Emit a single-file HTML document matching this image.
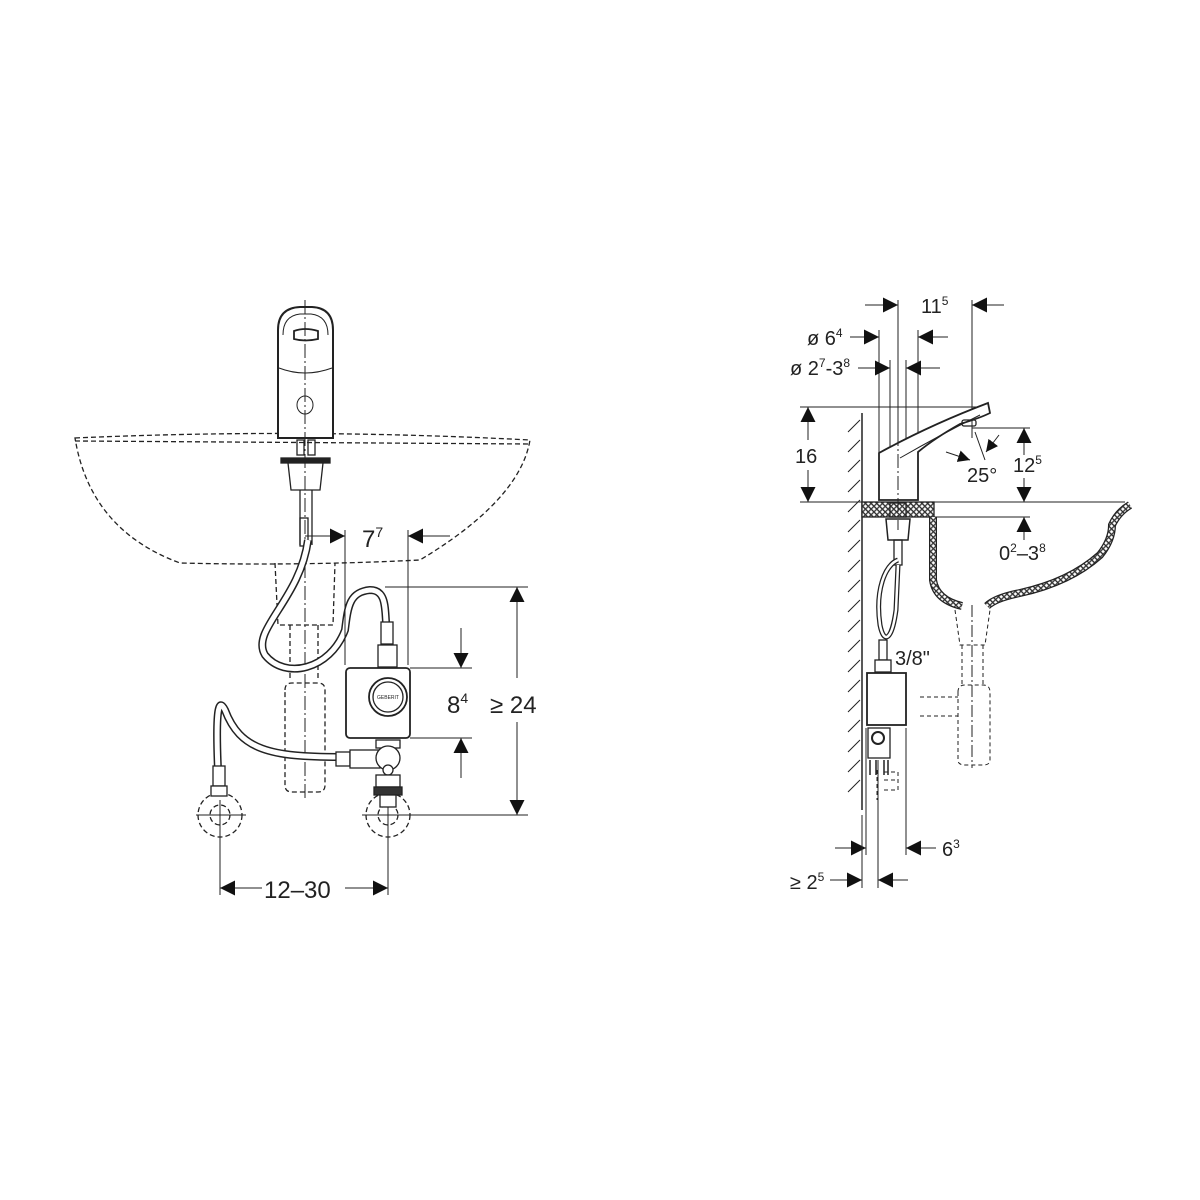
<!DOCTYPE html>
<html><head><meta charset="utf-8"><style>body{margin:0;background:#fff}svg{display:block}</style></head><body>
<svg width="1200" height="1200" viewBox="0 0 1200 1200" xmlns="http://www.w3.org/2000/svg" font-family="Liberation Sans, sans-serif" fill="none" stroke="#222" stroke-width="1.3">
<defs>
<marker id="a" viewBox="0 0 10 10" refX="10" refY="5" markerWidth="12" markerHeight="12" markerUnits="userSpaceOnUse" orient="auto"><path d="M0,0L10,5L0,10z" fill="#111" stroke="none"/></marker>
<marker id="b" viewBox="0 0 10 10" refX="10" refY="5" markerWidth="15" markerHeight="15" markerUnits="userSpaceOnUse" orient="auto"><path d="M0,0L10,5L0,10z" fill="#111" stroke="none"/></marker>
<pattern id="h" width="4" height="4" patternUnits="userSpaceOnUse" patternTransform="rotate(45)"><rect width="4" height="4" fill="#fff"/><line x1="0" y1="0" x2="0" y2="4" stroke="#555" stroke-width="0.8"/></pattern>
</defs>

<!-- LEFT: basin dashed -->
<g stroke-dasharray="5,3">
<path d="M75,438 Q300,428 530,440 Q520,500 420,560 Q300,566 180,563 Q90,530 75,438 Z"/>
<path d="M75,441 L530,444"/>
<path d="M275,563 L278,625 L333,625 L335,563"/>
<path d="M290,625 L290,680 M318,625 L318,680"/>
<path d="M285,690 Q285,683 292,683 L318,683 Q325,683 325,690 L325,785 Q325,792 318,792 L292,792 Q285,792 285,785 Z"/>
<circle cx="220" cy="815" r="22"/><circle cx="388" cy="815" r="22"/>
<circle cx="220" cy="815" r="10"/><circle cx="388" cy="815" r="10"/>
</g>
<line x1="305" y1="300" x2="305" y2="800" stroke-dasharray="14,3,2,3" stroke-width="1"/>
<line x1="196" y1="815" x2="246" y2="815" stroke-width="1"/><line x1="220" y1="800" x2="220" y2="895" stroke-width="1"/>
<line x1="362" y1="815" x2="412" y2="815" stroke-width="1"/><line x1="388" y1="800" x2="388" y2="895" stroke-width="1"/>

<!-- faucet body -->
<path d="M278,438 L278,330 Q278,308 300,307 L312,307 Q333,308 333,330 L333,438 Z" fill="#fff" stroke-width="2"/>
<path d="M283,335 Q283,316 300,314 L311,314 Q328,316 328,335" stroke-width="1"/>
<path d="M294,331 Q305,327 318,331 L318,339 Q305,342 294,339 Z" stroke-width="1.8"/>
<path d="M279,368 Q305,378 332,368" stroke-width="1"/>
<ellipse cx="305" cy="405" rx="8" ry="9" stroke-width="1"/>
<line x1="305" y1="300" x2="305" y2="445" stroke-dasharray="14,3,2,3" stroke-width="1"/>
<rect x="297" y="440" width="7" height="15"/><rect x="308" y="440" width="7" height="15"/>
<rect x="281" y="458" width="49" height="5" fill="#222"/>
<path d="M288,463 L291,490 L320,490 L323,463"/>
<path d="M300,490 L300,545 M312,490 L312,545"/>
<rect x="300" y="518" width="8" height="28"/>
<!-- hoses -->
<g stroke-width="8" stroke="#222"><path d="M308,540 C300,600 250,630 265,655 C285,680 330,670 345,630 C348,605 350,592 370,590 C385,590 385,605 386,622"/>
<path d="M340,757 C270,757 240,750 225,710 C220,700 215,700 218,770"/></g>
<g stroke-width="5" stroke="#fff"><path d="M308,540 C300,600 250,630 265,655 C285,680 330,670 345,630 C348,605 350,592 370,590 C385,590 385,605 386,622"/>
<path d="M340,757 C270,757 240,750 225,710 C220,700 215,700 218,770"/></g>
<rect x="381" y="622" width="12" height="22" fill="#fff"/>
<rect x="378" y="645" width="19" height="22" fill="#fff"/>
<rect x="213" y="766" width="12" height="20" fill="#fff"/>
<rect x="211" y="786" width="16" height="10" fill="#fff"/>
<!-- control box -->
<rect x="346" y="668" width="64" height="70" rx="4" fill="#fff" stroke-width="1.8"/>
<circle cx="388" cy="697" r="19" fill="#fff" stroke-width="1.8"/><circle cx="388" cy="697" r="15"/>
<text x="388" y="699" font-size="5" text-anchor="middle" fill="#222" stroke="none">GEBERIT</text>
<!-- valve -->
<rect x="376" y="740" width="24" height="8" fill="#fff"/>
<rect x="336" y="752" width="14" height="14" fill="#fff"/>
<rect x="350" y="750" width="30" height="18" fill="#fff"/>
<circle cx="388" cy="758" r="12" fill="#fff"/>
<circle cx="388" cy="770" r="5" fill="#fff"/>
<rect x="376" y="775" width="24" height="12" fill="#fff"/>
<rect x="374" y="787" width="28" height="8" fill="#333"/>
<rect x="380" y="795" width="16" height="12" fill="#fff"/>
<!-- left dims -->
<g stroke-width="1">
<line x1="345" y1="530" x2="345" y2="665"/><line x1="408" y1="530" x2="408" y2="665"/>
<line x1="305" y1="536" x2="345" y2="536" marker-end="url(#b)"/>
<line x1="450" y1="536" x2="408" y2="536" marker-end="url(#b)"/>
<line x1="385" y1="587" x2="528" y2="587"/><line x1="410" y1="815" x2="528" y2="815"/>
<line x1="517" y1="678" x2="517" y2="587" marker-end="url(#b)"/>
<line x1="517" y1="722" x2="517" y2="815" marker-end="url(#b)"/>
<line x1="410" y1="668" x2="472" y2="668"/><line x1="410" y1="738" x2="472" y2="738"/>
<line x1="461" y1="628" x2="461" y2="668" marker-end="url(#b)"/>
<line x1="461" y1="778" x2="461" y2="738" marker-end="url(#b)"/>
<line x1="262" y1="888" x2="220" y2="888" marker-end="url(#b)"/>
<line x1="345" y1="888" x2="388" y2="888" marker-end="url(#b)"/>
</g>
<g fill="#222" stroke="none" font-size="24">
<text x="362" y="547">7<tspan font-size="14" dy="-10">7</tspan></text>
<text x="447" y="713">8<tspan font-size="14" dy="-10">4</tspan></text>
<text x="490" y="713">≥ 24</text>
<text x="264" y="898">12–30</text>
</g>

<!-- RIGHT -->
<g stroke-width="1">
<line x1="898" y1="300" x2="898" y2="500"/><line x1="972" y1="300" x2="972" y2="438"/>
<line x1="865" y1="305" x2="898" y2="305" marker-end="url(#b)"/>
<line x1="1004" y1="305" x2="972" y2="305" marker-end="url(#b)"/>
<line x1="879" y1="330" x2="879" y2="455"/><line x1="918" y1="330" x2="918" y2="455"/>
<line x1="850" y1="337" x2="879" y2="337" marker-end="url(#b)"/>
<line x1="948" y1="337" x2="918" y2="337" marker-end="url(#b)"/>
<line x1="890" y1="360" x2="890" y2="500"/><line x1="906" y1="360" x2="906" y2="500"/>
<line x1="858" y1="368" x2="890" y2="368" marker-end="url(#b)"/>
<line x1="940" y1="368" x2="906" y2="368" marker-end="url(#b)"/>
<line x1="800" y1="407" x2="985" y2="407"/>
<line x1="808" y1="440" x2="808" y2="407" marker-end="url(#b)"/>
<line x1="808" y1="470" x2="808" y2="502" marker-end="url(#b)"/>
<line x1="800" y1="502" x2="1125" y2="502"/>
<line x1="972" y1="428" x2="1030" y2="428"/>
<line x1="1024" y1="455" x2="1024" y2="428" marker-end="url(#b)"/>
<line x1="1024" y1="478" x2="1024" y2="502" marker-end="url(#b)"/>
<line x1="975" y1="432" x2="985" y2="460"/>
<line x1="946" y1="452" x2="970" y2="460" marker-end="url(#a)"/>
<line x1="999" y1="435" x2="986" y2="452" marker-end="url(#a)"/>
<line x1="920" y1="517" x2="1030" y2="517"/>
<line x1="1024" y1="540" x2="1024" y2="517" marker-end="url(#b)"/>
<line x1="866" y1="728" x2="866" y2="855"/><line x1="906" y1="728" x2="906" y2="855"/>
<line x1="835" y1="848" x2="866" y2="848" marker-end="url(#b)"/>
<line x1="936" y1="848" x2="906" y2="848" marker-end="url(#b)"/>
<line x1="862" y1="815" x2="862" y2="888"/><line x1="878" y1="760" x2="878" y2="888"/>
<line x1="830" y1="880" x2="862" y2="880" marker-end="url(#b)"/>
<line x1="908" y1="880" x2="878" y2="880" marker-end="url(#b)"/>
</g>
<!-- wall -->
<line x1="862" y1="413" x2="862" y2="810" stroke-width="1.5"/>
<path d="M860,420 l-12,12 M860,440 l-12,12 M860,460 l-12,12 M860,480 l-12,12 M860,500 l-12,12 M860,520 l-12,12 M860,540 l-12,12 M860,560 l-12,12 M860,580 l-12,12 M860,600 l-12,12 M860,620 l-12,12 M860,640 l-12,12 M860,660 l-12,12 M860,680 l-12,12 M860,700 l-12,12 M860,720 l-12,12 M860,740 l-12,12 M860,760 l-12,12 M860,780 l-12,12" stroke-width="1"/>
<!-- basin section -->
<rect x="862" y="502" width="72" height="15" fill="url(#h)"/>
<g stroke-width="8" stroke="#222"><path d="M933,517 L933,580 Q936,600 962,606 M987,606 Q995,598 1020,593 Q1070,582 1100,555 Q1112,540 1112,525 Q1118,512 1130,505"/></g>
<g stroke-width="5.5" stroke="url(#h)"><path d="M933,517 L933,580 Q936,600 962,606 M987,606 Q995,598 1020,593 Q1070,582 1100,555 Q1112,540 1112,525 Q1118,512 1130,505"/></g>
<!-- faucet side -->
<path d="M879,500 L879,453 Q930,425 988,403 L990,413 Q980,418 960,424 Q935,438 918,452 L918,500 Z" fill="#fff" stroke-width="1.8"/>
<path d="M900,458 Q940,435 980,415" stroke-width="1"/>
<rect x="962" y="420" width="14" height="6" rx="2"/>
<rect x="890" y="503" width="16" height="14"/>
<path d="M886,519 L888,540 L908,540 L910,519 Z" stroke-width="1.5"/>
<line x1="898" y1="300" x2="898" y2="530" stroke-dasharray="14,3,2,3" stroke-width="1"/>
<rect x="894" y="540" width="8" height="25"/>
<g stroke-width="5"><path d="M898,560 C885,565 875,590 880,625 C884,645 892,640 896,610 L898,565"/></g>
<g stroke-width="2.5" stroke="#fff"><path d="M898,560 C885,565 875,590 880,625 C884,645 892,640 896,610 L898,565"/></g>
<rect x="879" y="640" width="8" height="20" fill="#fff"/>
<rect x="875" y="660" width="16" height="12" fill="#fff"/>
<rect x="867" y="673" width="39" height="52" fill="#fff" stroke-width="1.8"/>
<rect x="868" y="728" width="22" height="30" fill="#fff"/>
<circle cx="878" cy="738" r="6" stroke-width="2"/>
<path d="M870,760 L870,775 M876,760 L876,775 M884,760 L884,775 M888,760 L888,775" stroke-width="1.5"/>
<g stroke-dasharray="4,3" stroke-width="1">
<path d="M877,770 L877,800 M884,772 L898,772 L898,790 L884,790 M884,780 L898,780"/>
<path d="M955,610 L960,645 L985,645 L990,610 M962,645 L962,685 M983,645 L983,685"/>
<path d="M958,692 Q958,685 965,685 L983,685 Q990,685 990,692 L990,760 Q990,765 983,765 L965,765 Q958,765 958,760 Z"/>
<path d="M920,697 L958,697 M920,716 L958,716"/>
<line x1="972" y1="605" x2="972" y2="768" stroke-dasharray="12,3,2,3"/>
</g>
<g fill="#222" stroke="none" font-size="20">
<text x="921" y="313">11<tspan font-size="12" dy="-8">5</tspan></text>
<text x="807" y="345">ø 6<tspan font-size="12" dy="-8">4</tspan></text>
<text x="790" y="375">ø 2<tspan font-size="12" dy="-8">7</tspan><tspan dy="8">-3</tspan><tspan font-size="12" dy="-8">8</tspan></text>
<text x="795" y="463">16</text>
<text x="1013" y="472">12<tspan font-size="12" dy="-8">5</tspan></text>
<text x="967" y="482">25°</text>
<text x="999" y="560">0<tspan font-size="12" dy="-8">2</tspan><tspan dy="8">–3</tspan><tspan font-size="12" dy="-8">8</tspan></text>
<text x="895" y="665">3/8"</text>
<text x="942" y="856">6<tspan font-size="12" dy="-8">3</tspan></text>
<text x="790" y="889">≥ 2<tspan font-size="12" dy="-8">5</tspan></text>
</g>
</svg>
</body></html>
